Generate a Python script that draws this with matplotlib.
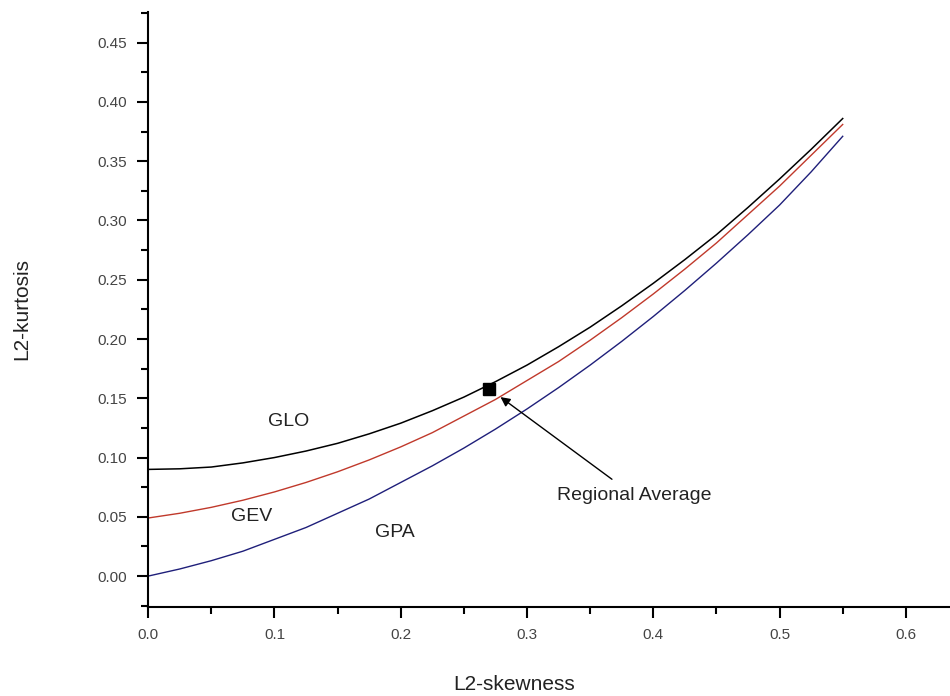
import matplotlib
matplotlib.use("Agg")
import matplotlib.pyplot as plt
from matplotlib.ticker import MultipleLocator

# L2-skewness points
skew = [0.0, 0.025, 0.05, 0.075, 0.10, 0.125, 0.15, 0.175, 0.20, 0.225, 0.25, 0.275,
        0.30, 0.325, 0.35, 0.375, 0.40, 0.425, 0.45, 0.475, 0.50, 0.525, 0.55]
glo = [0.090, 0.0905, 0.092, 0.0955, 0.100, 0.1055, 0.112, 0.120, 0.129, 0.1395, 0.151, 0.164,
       0.178, 0.1935, 0.210, 0.228, 0.247, 0.267, 0.288, 0.311, 0.335, 0.360, 0.386]
gev = [0.049, 0.053, 0.058, 0.064, 0.071, 0.079, 0.088, 0.098, 0.109, 0.121, 0.135, 0.149,
       0.165, 0.181, 0.199, 0.218, 0.238, 0.259, 0.281, 0.305, 0.329, 0.355, 0.381]
gpa = [0.000, 0.006, 0.013, 0.021, 0.031, 0.041, 0.053, 0.065, 0.079, 0.093, 0.108, 0.124,
       0.141, 0.159, 0.178, 0.198, 0.219, 0.241, 0.264, 0.288, 0.313, 0.341, 0.371]

avg_skew = 0.270
avg_kurt = 0.158

plt.rcParams["font.family"] = ["Liberation Sans", "DejaVu Sans"]

fig = plt.figure(figsize=(9.5, 6.96), dpi=100)
ax = fig.add_axes([0.156, 0.128, 0.86, 0.855])

ax.plot(skew, glo, color="black", lw=1.1)
ax.plot(skew, gev, color="#c0392b", lw=1.0)
ax.plot(skew, gpa, color="#1f1f7a", lw=1.0)
ax.plot([avg_skew], [avg_kurt], marker="s", color="black", ms=9, ls="none")

ax.text(0.111, 0.130, "GLO", fontsize=14, ha="center", va="center", color="#222222")
ax.text(0.082, 0.050, "GEV", fontsize=14, ha="center", va="center", color="#222222")
ax.text(0.195, 0.037, "GPA", fontsize=14, ha="center", va="center", color="#222222")
ax.annotate("Regional Average", xy=(0.279, 0.151), xytext=(0.3235, 0.068),
            fontsize=14, color="#222222", va="center", ha="left",
            arrowprops=dict(arrowstyle="-|>", color="black", lw=1.0,
                            shrinkA=6, shrinkB=0, mutation_scale=14))

ax.set_xlim(0, 0.647)
ax.set_ylim(-0.026, 0.476)
ax.xaxis.set_minor_locator(MultipleLocator(0.05))
ax.yaxis.set_minor_locator(MultipleLocator(0.025))
ax.set_xticks([0.0, 0.1, 0.2, 0.3, 0.4, 0.5, 0.6])
ax.set_yticks([0.0, 0.05, 0.10, 0.15, 0.20, 0.25, 0.30, 0.35, 0.40, 0.45])
ax.set_xticklabels(["0.0", "0.1", "0.2", "0.3", "0.4", "0.5", "0.6"])
ax.set_yticklabels(["0.00", "0.05", "0.10", "0.15", "0.20", "0.25", "0.30", "0.35", "0.40", "0.45"])

for s in ["top", "right"]:
    ax.spines[s].set_visible(False)
for s in ["left", "bottom"]:
    ax.spines[s].set_linewidth(1.5)

ax.tick_params(which="major", direction="out", length=8, width=1.5,
               labelsize=11, labelcolor="#444444", pad=7)
ax.tick_params(which="minor", direction="out", length=5, width=1.5)

ax.set_xlabel("L2-skewness", fontsize=15, color="#222222")
ax.xaxis.set_label_coords(0.448, -0.115)
ax.set_ylabel("L2-kurtosis", fontsize=15, color="#222222")
ax.yaxis.set_label_coords(-0.143, 0.5)

fig.savefig("out.png", dpi=100)
